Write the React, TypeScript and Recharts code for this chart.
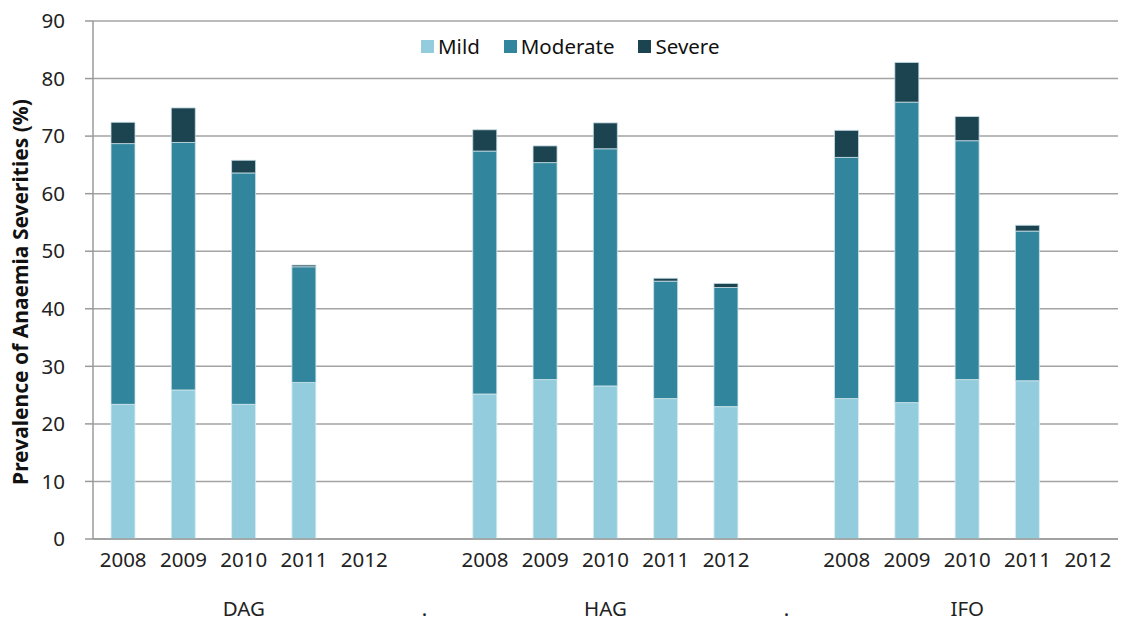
import React from 'react';
import { BarChart, Bar, XAxis, YAxis, CartesianGrid, Legend } from 'recharts';

// Survey sites and years shown on the two-level category axis
const groups = ['DAG', 'HAG', 'IFO'];
const years = ['2008', '2009', '2010', '2011', '2012'];

// Prevalence (%) per site/year, site-major order (DAG 2008..2012, HAG..., IFO...)
const mild = [23.4, 25.9, 23.4, 27.2, null, 25.2, 27.7, 26.6, 24.4, 23.0, 24.4, 23.7, 27.7, 27.5, null];
const moderate = [45.3, 43.0, 40.2, 20.1, null, 42.2, 37.7, 41.2, 20.4, 20.7, 41.9, 52.2, 41.5, 26.0, null];
const severe = [3.7, 6.0, 2.2, 0.3, null, 3.7, 2.9, 4.5, 0.5, 0.7, 4.7, 6.9, 4.2, 1.0, null];

const yTicks = [0, 10, 20, 30, 40, 50, 60, 70, 80, 90];

const COLORS = { Mild: '#93CDDD', Moderate: '#31859C', Severe: '#1B4450' };
const FONT = '"Noto Sans", "Open Sans", sans-serif';

type Row = {
  key: string;
  year: string;
  group: string;
  showGroup: boolean;
  Mild: number | null;
  Moderate: number | null;
  Severe: number | null;
};

// Build the category rows, with a spacer column (labelled ".") between sites
const rows: Row[] = [];
groups.forEach((g, gi) => {
  if (gi > 0) {
    rows.push({ key: `gap-${gi}`, year: '', group: '.', showGroup: true, Mild: null, Moderate: null, Severe: null });
  }
  years.forEach((y, yi) => {
    const i = gi * years.length + yi;
    rows.push({
      key: `${g}-${y}`,
      year: y,
      group: g,
      showGroup: yi === Math.floor(years.length / 2),
      Mild: mild[i],
      Moderate: moderate[i],
      Severe: severe[i],
    });
  });
});

const CategoryTick = (props: any) => {
  const { x, y, payload } = props;
  const idx = props.index ?? payload?.index ?? 0;
  const row = rows[idx];
  if (!row) return null;
  return (
    <g>
      <text x={x} y={y + 26} textAnchor="middle" fontSize={20.5} fill="#222" fontFamily={FONT}>
        {row.year}
      </text>
      {row.showGroup && (
        <text x={x} y={y + 75} textAnchor="middle" fontSize={20.5} fill="#222" fontFamily={FONT}>
          {row.group}
        </text>
      )}
    </g>
  );
};

const LegendContent = (props: any) => {
  const items = (props.payload || []) as any[];
  return (
    <div style={{ display: 'flex', alignItems: 'center', fontFamily: FONT, fontSize: 20.5, color: '#111' }}>
      {items.map((it, i) => (
        <div key={it.value} style={{ display: 'flex', alignItems: 'center', marginLeft: i === 0 ? 0 : 24 }}>
          <span style={{ width: 13, height: 13, background: it.color, display: 'inline-block', marginRight: 4 }} />
          <span style={{ lineHeight: '24px' }}>{it.value}</span>
        </div>
      ))}
    </div>
  );
};

export default function App() {
  return (
    <div style={{ position: 'fixed', left: 0, top: 0, width: 1128, height: 621, background: '#fff' }}>
      <BarChart
        width={1128}
        height={621}
        data={rows}
        margin={{ top: 21, right: 10, left: 8, bottom: 0 }}
        barSize={24}
      >
        <CartesianGrid vertical={false} stroke="#a3a3a3" strokeWidth={1.5} />
        <XAxis
          dataKey="key"
          interval={0}
          height={82}
          tickLine={false}
          tickSize={0}
          axisLine={{ stroke: '#9a9a9a', strokeWidth: 1.5 }}
          tick={<CategoryTick />}
        />
        <YAxis
          width={85}
          domain={[0, 90]}
          ticks={yTicks}
          interval={0}
          tickSize={8}
          tickMargin={20}
          axisLine={{ stroke: '#9a9a9a', strokeWidth: 1.5 }}
          tickLine={{ stroke: '#9a9a9a', strokeWidth: 1.5 }}
          tick={{ fontSize: 20.5, fill: '#222', fontFamily: FONT }}
          label={{
            value: 'Prevalence of Anaemia Severities (%)',
            angle: -90,
            position: 'center',
            dx: -30,
            dy: 12,
            style: { fontSize: 21, fontWeight: 'bold', fill: '#111', fontFamily: FONT, textAnchor: 'middle' },
          }}
        />
        <Legend
          layout="horizontal"
          verticalAlign="middle"
          wrapperStyle={{ position: 'absolute', top: 34, left: 421, width: 'auto' }}
          content={<LegendContent />}
        />
        <Bar dataKey="Mild" stackId="a" fill={COLORS.Mild} stroke="#dcedf2" strokeWidth={0.8} isAnimationActive={false} />
        <Bar dataKey="Moderate" stackId="a" fill={COLORS.Moderate} stroke="#cfe3ea" strokeWidth={0.8} isAnimationActive={false} />
        <Bar dataKey="Severe" stackId="a" fill={COLORS.Severe} stroke="#c8dde4" strokeWidth={0.8} isAnimationActive={false} />
      </BarChart>
    </div>
  );
}
